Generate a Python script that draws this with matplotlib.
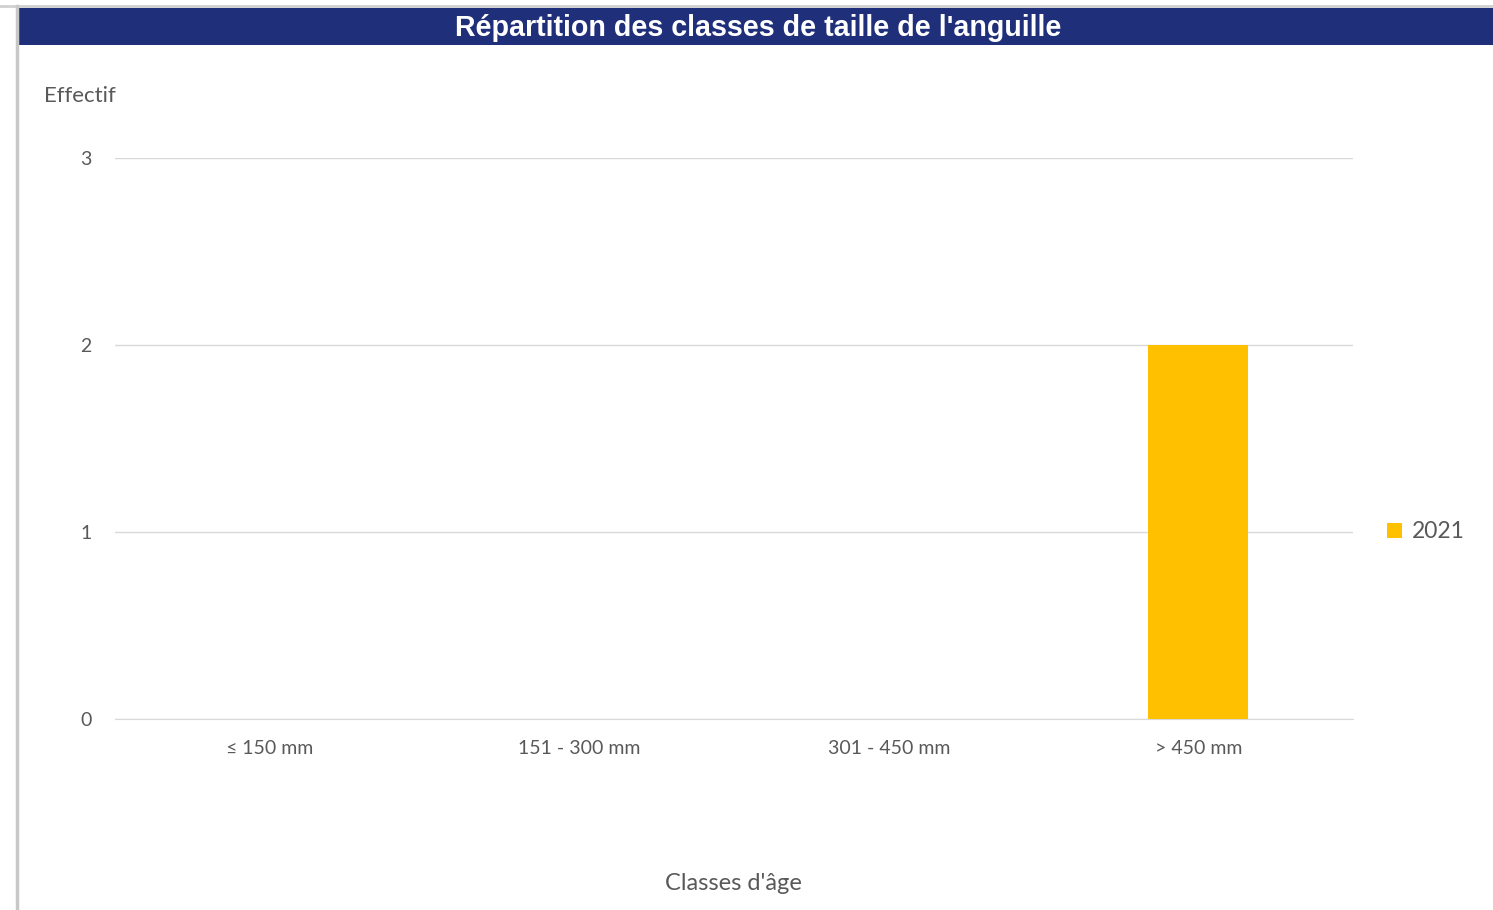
import matplotlib
matplotlib.use("Agg")
import matplotlib.pyplot as plt
from matplotlib.patches import Rectangle
from matplotlib.lines import Line2D

categories = ["≤ 150 mm", "151 - 300 mm", "301 - 450 mm", "> 450 mm"]
values_2021 = [0, 0, 0, 2]
series_name = "2021"
yticks = [0, 1, 2, 3]

W, H = 1493, 910
fig = plt.figure(figsize=(W/100, H/100), dpi=100)
fig.patch.set_facecolor("white")

# borders
fig.add_artist(Line2D([0, 1], [1 - 6/H, 1 - 6/H], color="#d0d0d0", lw=2, transform=fig.transFigure))
fig.add_artist(Line2D([16.5/W, 16.5/W], [0, 1 - 6/H], color="#c8c8c8", lw=2.5, transform=fig.transFigure))
# title band
fig.add_artist(Rectangle((18/W, 1 - 45/H), 1 - 18/W, 37/H, transform=fig.transFigure,
                         facecolor="#1f2f7a", edgecolor="none"))
fig.text(758/W, 1 - 28/H, "Répartition des classes de taille de l'anguille", color="white",
         fontsize=20.6, fontweight="bold", family="Liberation Sans", ha="center", va="center")

ax = fig.add_axes([115/W, 1 - 719/H, (1353 - 115)/W, (719 - 158)/H])
x = list(range(len(categories)))
ax.bar(x, values_2021, width=0.323, color="#ffc000", label=series_name, zorder=3)
ax.set_xlim(-0.5, len(categories) - 0.5)
ax.set_ylim(0, 3)
ax.set_yticks(yticks)
ax.set_xticks(x)
ax.set_xticklabels(categories, fontsize=14, color="#595959", family="Lato")
ax.set_yticklabels([str(v) for v in yticks], fontsize=14, color="#595959", family="Lato")
ax.tick_params(axis="both", length=0)
ax.tick_params(axis="x", pad=15)
ax.tick_params(axis="y", pad=21)
for lab in ax.get_yticklabels():
    lab.set_horizontalalignment("center")
ax.grid(axis="y", color="#d9d9d9", lw=1, zorder=0)
for s in ["top", "right", "left"]:
    ax.spines[s].set_visible(False)
ax.spines["bottom"].set_color("#d9d9d9")

fig.text(80/W, 1 - 96/H, "Effectif", fontsize=16, color="#595959", family="Lato", ha="center", va="center")
fig.text(733/W, 1 - 884/H, "Classes d'âge", fontsize=17, color="#595959", family="Lato", ha="center", va="center")

leg = ax.legend(loc="center left", bbox_to_anchor=(1387/W, 1 - 532/H), bbox_transform=fig.transFigure,
                frameon=False, fontsize=16.5, handlelength=0.65, handleheight=0.65, handletextpad=0.45,
                borderaxespad=0, borderpad=0)
for t in leg.get_texts():
    t.set_color("#595959")
    t.set_family("Lato")

fig.savefig("out.png", dpi=100)
